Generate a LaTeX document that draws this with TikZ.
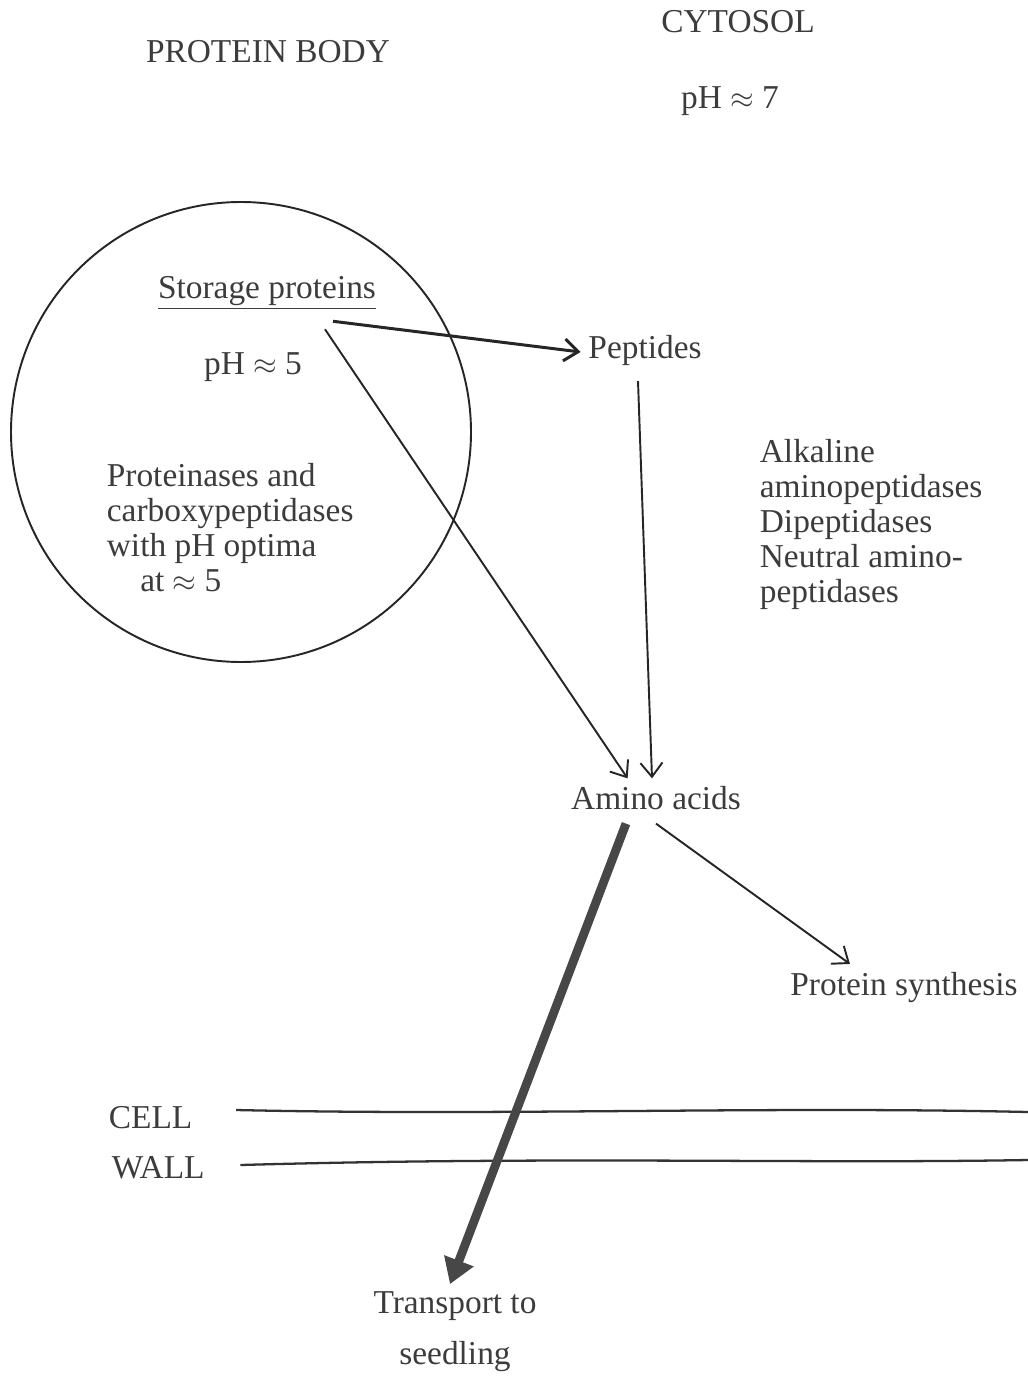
\documentclass[tikz,border=0pt]{standalone}
\usepackage{fontspec}
\setmainfont{Liberation Serif}
\usetikzlibrary{arrows.meta,positioning,calc}
\definecolor{ink}{HTML}{3C3C3C}
\tikzset{
  >={Straight Barb[length=2.8mm,width=4.4mm]},
  lbl/.style={text=ink, font=\fontsize{19}{20}\selectfont, inner sep=2pt},
  list/.style={lbl, align=left, anchor=north west},
  flow/.style={->, draw=black!85, line width=1.1pt},
  bulk/.style={-{Triangle[length=5mm,width=6mm]}, draw=black!72, line width=5pt},
  wall/.style={draw=black!80, line width=1.3pt},
  body/.style={draw=black!85, circle, minimum size=92mm, inner sep=0pt, line width=1.1pt},
}
\begin{document}
\begin{tikzpicture}[x=0.2mm, y=-0.2mm]
  \useasboundingbox (0,0) rectangle (1028,1376);

  % compartments
  \node[lbl] (pbname) at (268,52) {PROTEIN BODY};
  \node[lbl] (cyto) at (738,22) {CYTOSOL};
  \node[lbl] (phc) at (730,101) {pH $\approx$ 7};
  \node[body] (pb) at (241,432) {};

  % inside the protein body
  \node[lbl] (sp) at (267,293) {\underline{Storage proteins}};
  \node[lbl] (php) at (253,367) {pH $\approx$ 5};
  \node[list] (prot) at (103,459) {Proteinases and\\carboxypeptidases\\with pH optima\\\hspace*{1em}at $\approx$ 5};

  % cytosol
  \node[lbl] (pep) at (645,350) {Peptides};
  \node[list] (enz) at (756,435) {Alkaline\\aminopeptidases\\Dipeptidases\\Neutral amino-\\peptidases};
  \node[lbl] (aa) at (656,798) {Amino acids};
  \node[lbl] (ps) at (904,988) {Protein synthesis};
  \node[lbl, font=\fontsize{19}{29}\selectfont, align=center] (tr) at (455,1332) {Transport to\\seedling};

  % cell wall
  \node[lbl, anchor=west] (cell) at (105,1118) {CELL};
  \node[lbl, anchor=west] (wall) at (108,1168) {WALL};
  \coordinate (w1) at (1028,1112);
  \coordinate (w2) at (1028,1160);
  \draw[wall] ($(cell.east)+(40,-8)$) .. controls (500,1116) and (760,1106) .. (w1);
  \draw[wall] ($(wall.east)+(32,-3)$) .. controls (560,1156) and (800,1164) .. (w2);

  % pathways
  \draw[flow, line width=1.7pt] ($(sp.south)+(66,8)$) -- ($(pep.west)+(-4,2)$);
  \draw[flow] ($(sp.south)+(58,16)$) -- ($(aa.north west)!0.34!(aa.north east)+(0,-4)$);
  \draw[flow] ($(pep.south)+(-7,12)$) -- ($(aa.north)+(-4,-4)$);
  \draw[flow] ($(aa.south)+(0,10)$) -- ($(ps.north west)!0.27!(ps.north east)+(0,-5)$);
  \draw[bulk] ($(aa.south)+(-30,10)$) -- ($(tr.north)+(-5,-4)$);
\end{tikzpicture}
\end{document}
